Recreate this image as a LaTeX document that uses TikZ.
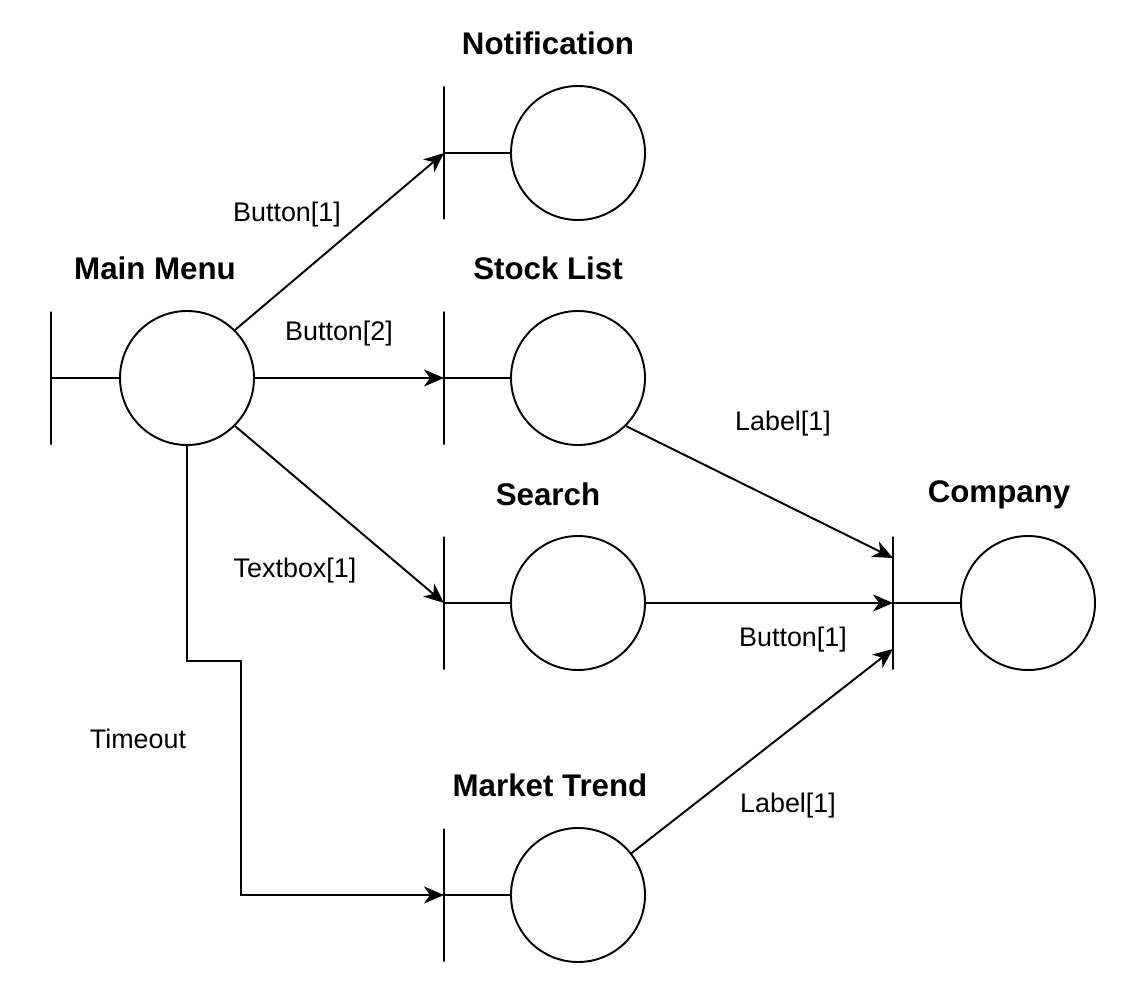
\documentclass[tikz,border=0pt]{standalone}
\usepackage{fontspec}
\setmainfont{Liberation Sans}
\usetikzlibrary{arrows.meta}
\begin{document}
\begin{tikzpicture}[line width=1.1pt,
    state/.style={circle, draw, minimum size=2.68cm, inner sep=0pt},
    bar/.style={draw, minimum width=0pt, minimum height=2.66cm, inner sep=0pt},
    title/.style={font=\fontsize{17.8}{20}\selectfont\bfseries},
    lbl/.style={font=\fontsize{15.3}{18}\selectfont},
    arr/.style={-{Stealth[length=0.4cm, width=0.34cm, inset=0.12cm]}}]
    \useasboundingbox (0,0) rectangle (22.6,-19.98);
            % boundaries
            \node[bar] (mmbar) at (1.02,-7.56) {};
            \node[state] (mm) at (3.74,-7.56) {};
            \node[bar] (ntbar) at (8.88,-3.06) {};
            \node[state] (nt) at (11.56,-3.06) {};
            \node[bar] (slbar) at (8.88,-7.56) {};
            \node[state] (sl) at (11.56,-7.56) {};
            \node[bar] (srbar) at (8.88,-12.06) {};
            \node[state] (sr) at (11.56,-12.06) {};
            \node[bar] (mtbar) at (8.88,-17.9) {};
            \node[state] (mt) at (11.56,-17.9) {};
            \node[bar] (cpbar) at (17.86,-12.06) {};
            \node[state] (cp) at (20.56,-12.06) {};
            \draw (mmbar) -- (mm);
            \draw (ntbar) -- (nt);
            \draw (slbar) -- (sl);
            \draw (srbar) -- (sr);
            \draw (mtbar) -- (mt);
            \draw (cpbar) -- (cp);
            % titles
            \node[title] (mmtitle) at (3.1,-5.36) {Main Menu};
            \node[title] (nttitle) at (10.96,-0.86) {Notification};
            \node[title] (sltitle) at (10.96,-5.36) {Stock List};
            \node[title] (srtitle) at (10.96,-9.88) {Search};
            \node[title] (cptitle) at (19.98,-9.9) {Company};
            \node[title] (mttitle) at (11.0,-15.7) {Market Trend};
            % transitions
            \draw[arr] (mm.45) -- (ntbar.center);
            \draw[arr] (mm) -- (slbar.center);
            \draw[arr] (mm.-45) -- (srbar.center);
            \draw[arr] (mm.south) -- ++(0,-4.3) -- ++(1.08,0) |- (mtbar.center);
            \draw[arr] (sl.-45) -- ([yshift=0.9cm]cpbar.center);
            \draw[arr] (sr) -- (cpbar.center);
            \draw[arr] (mt.38) -- ([yshift=-0.92cm]cpbar.center);
            \node[lbl] (l1) at (5.74,-4.3) {Button[1]};
            \node[lbl] (l2) at (6.78,-6.68) {Button[2]};
            \node[lbl] (l3) at (5.9,-11.42) {Textbox[1]};
            \node[lbl] (l4) at (2.76,-14.78) {Timeout};
            \node[lbl] (l5) at (15.66,-8.48) {Label[1]};
            \node[lbl] (l6) at (15.86,-12.8) {Button[1]};
            \node[lbl] (l7) at (15.76,-16.12) {Label[1]};
\end{tikzpicture}
\end{document}
